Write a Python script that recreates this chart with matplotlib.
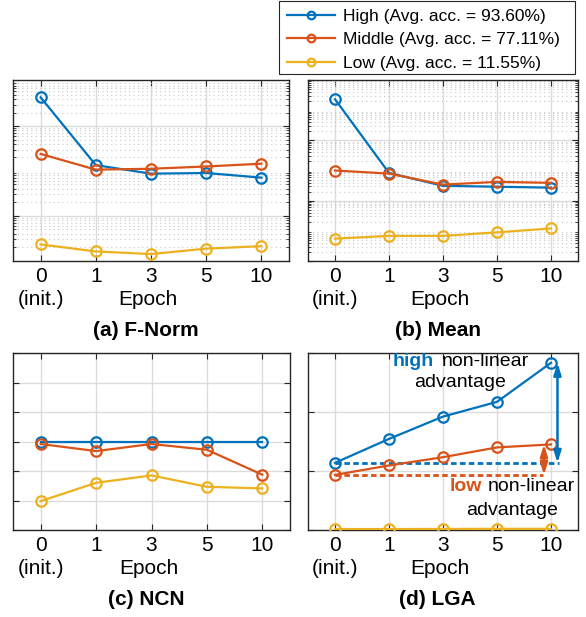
import matplotlib
matplotlib.use("Agg")
import matplotlib.pyplot as plt
from matplotlib.lines import Line2D
from matplotlib.patches import Rectangle
from matplotlib.ticker import LogLocator, NullFormatter, MultipleLocator

plt.rcParams["font.family"] = ["Liberation Sans", "DejaVu Sans"]

epochs = ["0", "1", "3", "5", "10"]
series = ["High", "Middle", "Low"]
avg_acc = [93.60, 77.11, 11.55]
colors = ["#0072BD", "#D95319", "#EDB120"]

# (a) F-Norm, log scale
fnorm_high = [4400, 135, 87, 90, 71]
fnorm_middle = [240, 107, 112, 126, 145]
fnorm_low = [2.3, 1.6, 1.4, 1.85, 2.1]

# (b) Mean, log scale
mean_high = [0.23, 8.3e-4, 3.1e-4, 2.9e-4, 2.7e-4]
mean_middle = [1.0e-3, 7.9e-4, 3.4e-4, 4.2e-4, 3.9e-4]
mean_low = [5.5e-6, 6.8e-6, 6.8e-6, 8.9e-6, 1.2e-5]

# (c) NCN
ncn_high = [0.60, 0.60, 0.60, 0.60, 0.60]
ncn_middle = [0.583, 0.535, 0.583, 0.544, 0.375]
ncn_low = [0.196, 0.32, 0.37, 0.293, 0.282]

# (d) LGA
lga_high = [0.569, 0.772, 0.961, 1.086, 1.417]
lga_middle = [0.467, 0.547, 0.617, 0.70, 0.725]
lga_low = [0.008, 0.008, 0.009, 0.010, 0.010]

W, H = 586, 617
fig = plt.figure(figsize=(W / 100, H / 100), dpi=100)


def px_axes(left, top, right, bottom):
    return fig.add_axes([left / W, 1 - bottom / H, (right - left) / W, (bottom - top) / H])


def style(ax, title):
    ax.set_xlim(-0.5, 4.5)
    ax.set_xticks(range(len(epochs)))
    ax.set_xticklabels(epochs)
    ax.tick_params(which="both", direction="in", top=True, right=True, labelleft=False,
                   color="#262626", labelsize=15, pad=4)
    ax.tick_params(which="major", length=4)
    ax.tick_params(which="minor", length=2)
    for s in ax.spines.values():
        s.set_color("#262626")
        s.set_linewidth(1.0)
    ax.grid(True, which="major", color="#dcdcdc", linewidth=1.0)
    ax.set_axisbelow(True)
    ax.annotate("(init.)", xy=(0, 0), xycoords=("data", "axes fraction"), xytext=(0, -27.4),
                textcoords="offset points", ha="center", va="center", fontsize=15)
    ax.annotate("Epoch", xy=(0.49, 0), xycoords="axes fraction", xytext=(0, -28),
                textcoords="offset points", ha="center", va="center", fontsize=15)
    ax.annotate(title, xy=(0.48, 0), xycoords="axes fraction", xytext=(0, -50),
                textcoords="offset points", ha="center", va="center", fontsize=15,
                fontweight="bold")


def draw(ax, values):
    for vals, c in zip(values, colors):
        ax.plot(range(len(epochs)), vals, color=c, linewidth=1.6, marker="o", markersize=7.5,
                markerfacecolor="none", markeredgewidth=1.6, zorder=3)


def log_minor(ax):
    ax.yaxis.set_minor_locator(LogLocator(base=10, subs=range(2, 10), numticks=20))
    ax.yaxis.set_minor_formatter(NullFormatter())
    ax.grid(True, which="minor", axis="y", color="#c8c8c8", linestyle=(0, (1, 3)), linewidth=0.8)


ax_a = px_axes(13, 80, 289, 261)
ax_a.set_yscale("log")
draw(ax_a, [fnorm_high, fnorm_middle, fnorm_low])
ax_a.set_ylim(0.98, 10700)
log_minor(ax_a)
style(ax_a, "(a) F-Norm")

ax_b = px_axes(308, 80, 578, 261)
ax_b.set_yscale("log")
draw(ax_b, [mean_high, mean_middle, mean_low])
ax_b.set_ylim(1e-6, 1e0)
log_minor(ax_b)
style(ax_b, "(b) Mean")

ax_c = px_axes(13, 353, 290, 530)
draw(ax_c, [ncn_high, ncn_middle, ncn_low])
ax_c.set_ylim(0, 1.2)
ax_c.yaxis.set_major_locator(MultipleLocator(0.2))
style(ax_c, "(c) NCN")

ax_d = px_axes(308, 353, 578, 530)
draw(ax_d, [lga_high, lga_middle, lga_low])
ax_d.set_ylim(0, 1.5)
ax_d.yaxis.set_major_locator(MultipleLocator(0.5))
style(ax_d, "(d) LGA")

# non-linear advantage markers
ax_d.plot([0, 4.14], [lga_high[0]] * 2, color=colors[0], linewidth=2, linestyle=(0, (2, 1.2)), zorder=2)
ax_d.plot([0, 3.86], [lga_middle[0]] * 2, color=colors[1], linewidth=2, linestyle=(0, (2, 1.2)), zorder=2)
ax_d.annotate("", xy=(4.12, lga_high[4]), xytext=(4.12, lga_high[0]),
              arrowprops=dict(arrowstyle="<|-|>,head_length=0.7,head_width=0.22", color=colors[0],
                              lw=1.8, shrinkA=0, shrinkB=0))
ax_d.annotate("", xy=(3.87, lga_middle[4]), xytext=(3.87, lga_middle[0]),
              arrowprops=dict(arrowstyle="<|-|>,head_length=0.7,head_width=0.22", color=colors[1],
                              lw=1.8, shrinkA=0, shrinkB=0))
ax_d.text(1.83, 1.432, "high", color=colors[0], fontweight="bold", fontsize=14, ha="right", va="center")
ax_d.text(1.98, 1.432, "non-linear", color="black", fontsize=14, ha="left", va="center")
ax_d.text(2.31, 1.246, "advantage", color="black", fontsize=14, ha="center", va="center")
ax_d.text(2.72, 0.367, "low", color=colors[1], fontweight="bold", fontsize=14, ha="right", va="center")
ax_d.text(2.82, 0.367, "non-linear", color="black", fontsize=14, ha="left", va="center")
ax_d.text(3.28, 0.164, "advantage", color="black", fontsize=14, ha="center", va="center")

# legend: MATLAB-style box is wider than its contents, so draw the frame separately
fig.patches.append(Rectangle((279 / W, 1 - 74 / H), 296 / W, 73 / H, transform=fig.transFigure,
                             facecolor="white", edgecolor="#262626", linewidth=0.8, zorder=5))
handles = [Line2D([], [], color=c, linewidth=1.6, marker="o", markersize=5.5, markerfacecolor="none",
                  markeredgewidth=1.6) for c in colors]
labels = [f"{s} (Avg. acc. = {a:.2f}%)" for s, a in zip(series, avg_acc)]
leg = fig.legend(handles, labels, loc="upper left", bbox_to_anchor=(287 / W, 1 - 9 / H),
                 fontsize=12.5, handlelength=2.75, handletextpad=0.45, labelspacing=0.47,
                 borderpad=0, borderaxespad=0, frameon=False)
leg.set_zorder(6)

fig.savefig("out.png", dpi=100)
